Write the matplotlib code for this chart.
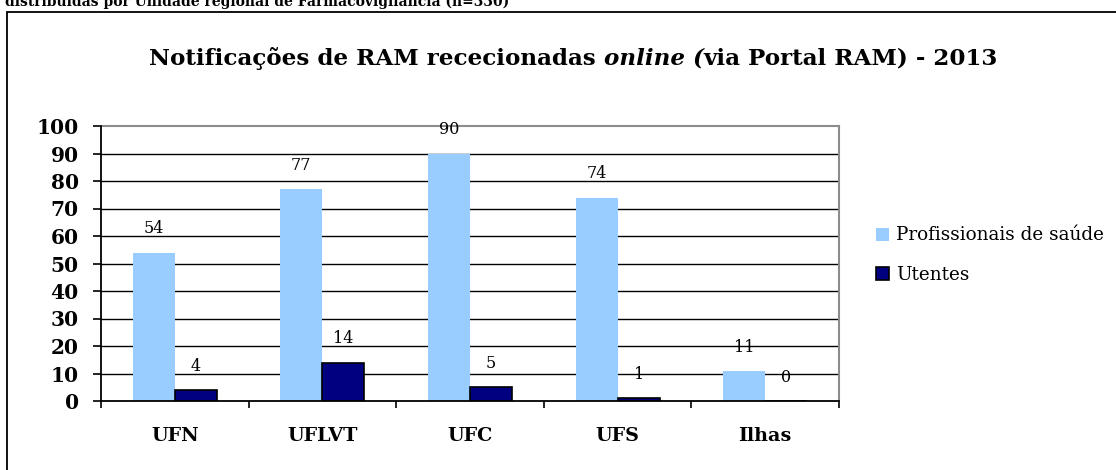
import numpy as np
import matplotlib
matplotlib.use("Agg")
import matplotlib.pyplot as plt
from matplotlib.patches import Rectangle

plt.rcParams["font.family"] = ["DejaVu Serif"]

regions = ["UFN", "UFLVT", "UFC", "UFS", "Ilhas"]
profissionais = [54, 77, 90, 74, 11]
utentes = [4, 14, 5, 1, 0]
y_ticks = list(range(0, 101, 10))

LIGHT = "#99CCFF"
DARK = "#000080"

W, H = 1116, 470
fig = plt.figure(figsize=(W / 100, H / 100), dpi=100)

# frame around the chart (only left and top visible in the crop)
fig.patches.append(Rectangle((7 / W, -0.1), 1.2, 1 - 12 / H + 0.1,
                             transform=fig.transFigure, fill=False,
                             ec="black", lw=1.3))
# caption line above, cut off by the crop
fig.text(5 / W, 1 - 6 / H, "distribuídas por Unidade regional de Farmacovigilância (n=330)",
         fontsize=10, fontweight="bold", va="baseline", ha="left")

ax = fig.add_axes([101 / W, 1 - 401 / H, (839 - 101) / W, (401 - 126) / H])
x = np.arange(len(regions))
bw = 0.285
b1 = ax.bar(x - bw / 2, profissionais, bw, color=LIGHT, lw=0, zorder=3,
            label="Profissionais de saúde")
b2 = ax.bar(x + bw / 2, utentes, bw, color=DARK, edgecolor="black", lw=1.2,
            zorder=3, label="Utentes")

for rects, vals in ((b1, profissionais), (b2, utentes)):
    for r, v in zip(rects, vals):
        ax.annotate(str(v), (r.get_x() + r.get_width() / 2, v),
                    xytext=(0, 17), textcoords="offset points",
                    ha="center", va="center", fontsize=11.5)

ax.set_xlim(-0.5, len(regions) - 0.5)
ax.set_ylim(0, 100)
ax.set_yticks(y_ticks)
ax.set_yticklabels([str(t) for t in y_ticks], fontsize=14.5, fontweight="bold")
ax.tick_params(axis="y", direction="out", length=6, width=1.2, pad=10)

ax.set_xticks(np.arange(len(regions) + 1) - 0.5)
ax.set_xticklabels([])
ax.set_xticks(x, minor=True)
ax.set_xticklabels(regions, minor=True, fontsize=13.8, fontweight="bold")
ax.tick_params(axis="x", which="major", direction="out", length=5, width=1.2)
ax.tick_params(axis="x", which="minor", length=0, pad=19)

for t in y_ticks[1:-1]:
    ax.axhline(t, color="black", lw=1.0, zorder=1)
for s in ("top", "right"):
    ax.spines[s].set_color("#8c8c8c")
    ax.spines[s].set_linewidth(1.5)
for s in ("left", "bottom"):
    ax.spines[s].set_linewidth(1.3)
    ax.spines[s].set_zorder(4)

fig.legend(handles=[b1, b2], loc="center left",
           bbox_to_anchor=(876 / W, 1 - 255 / H), frameon=False,
           fontsize=13.2, handlelength=0.72, handleheight=0.72,
           handletextpad=0.38, labelspacing=1.15, borderpad=0, borderaxespad=0)

# title with an italic piece
pieces = [("Notificações de RAM rececionadas ", "normal"),
          ("online (", "italic"),
          ("via Portal RAM) - 2013", "normal")]
renderer = fig.canvas.get_renderer()
texts = []
for s, style in pieces:
    texts.append(fig.text(0, 1 - 65 / H, s, fontsize=18, fontweight="bold",
                          fontstyle=style, va="baseline", ha="left"))
widths = [t.get_window_extent(renderer).width for t in texts]
scale = 847 / sum(widths)
for t in texts:
    t.set_fontsize(18 * scale)
widths = [t.get_window_extent(renderer).width for t in texts]
x0 = 573.5 - sum(widths) / 2
for t, w in zip(texts, widths):
    t.set_x(x0 / W)
    x0 += w

fig.savefig("out.png", dpi=100)
